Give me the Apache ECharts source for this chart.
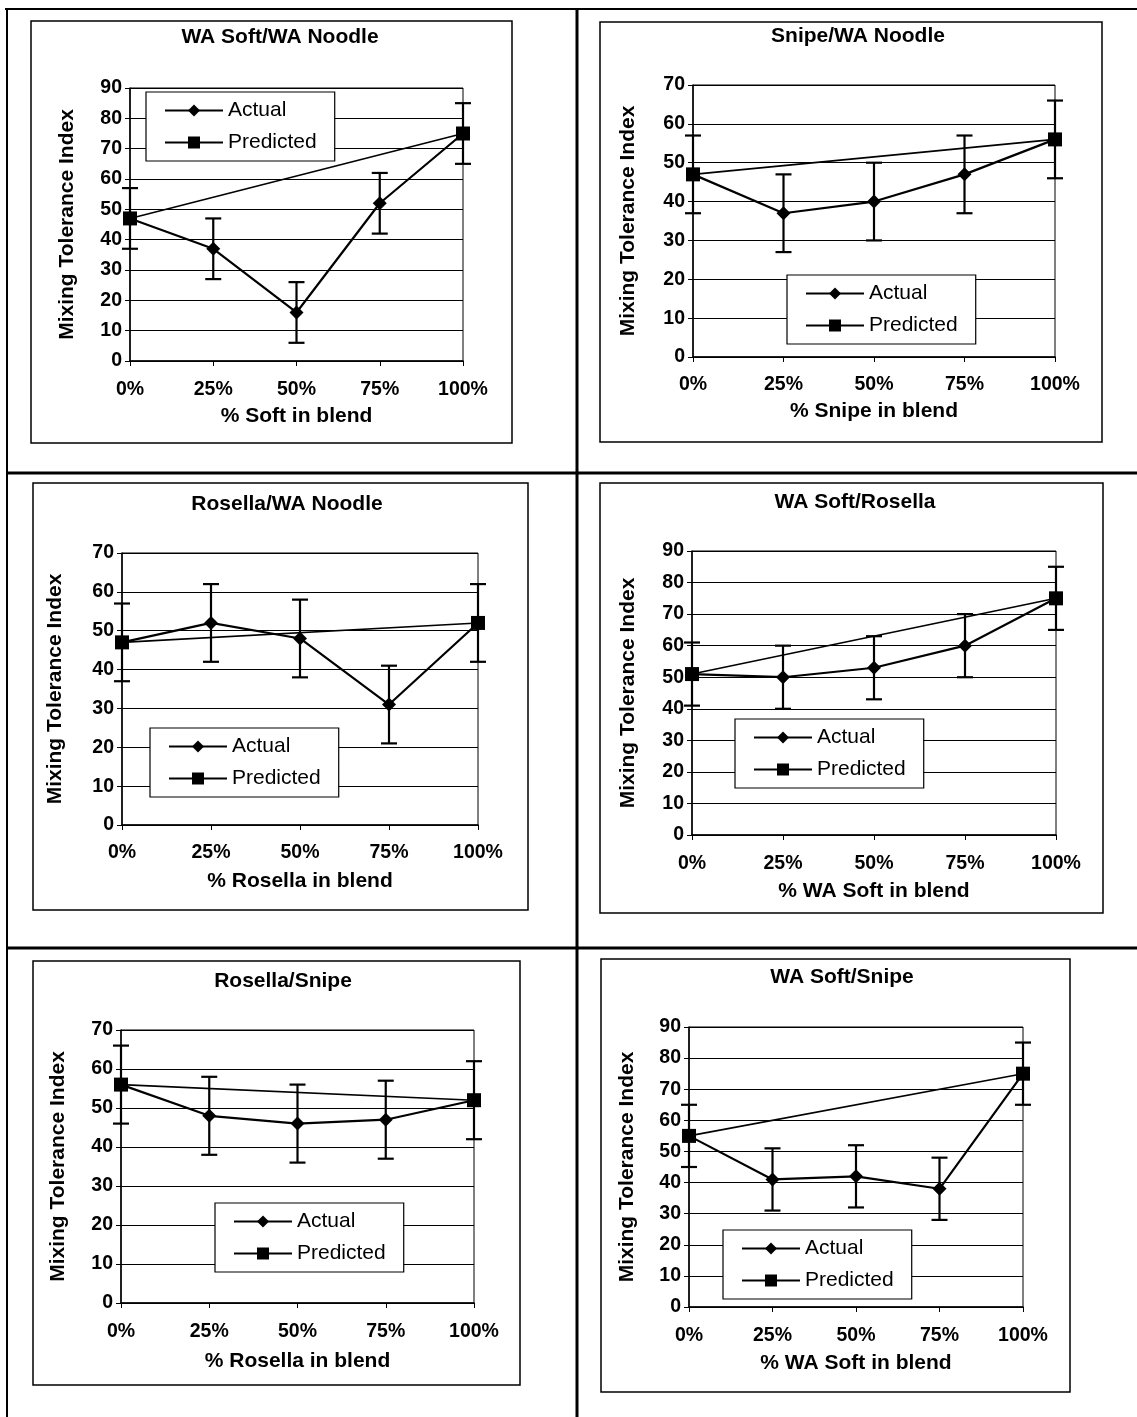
<!DOCTYPE html>
<html>
<head>
<meta charset="utf-8">
<script src="https://cdn.jsdelivr.net/npm/echarts@6/dist/echarts.min.js"></script>
<style>
html,body{margin:0;padding:0;background:#fff;}
#chart{width:1137px;height:1417px;}
</style>
</head>
<body>
<div id="chart"></div>
<script>
// ---------- DATA ----------
const categories = ['0%', '25%', '50%', '75%', '100%'];
const panelTitles = ['WA Soft/WA Noodle', 'Snipe/WA Noodle', 'Rosella/WA Noodle', 'WA Soft/Rosella', 'Rosella/Snipe', 'WA Soft/Snipe'];
const xAxisNames = ['% Soft in blend', '% Snipe in blend', '% Rosella in blend', '% WA Soft in blend', '% Rosella in blend', '% WA Soft in blend'];
const yAxisName = 'Mixing Tolerance Index';
const yAxisMax = [90, 70, 70, 90, 70, 90];
const legendNames = ['Actual', 'Predicted'];

const actual1 = [47, 37, 16, 52, 75];
const predicted1 = [47, null, null, null, 75];
const error1 = [10, 10, 10, 10, 10];

const actual2 = [47, 37, 40, 47, 56];
const predicted2 = [47, null, null, null, 56];
const error2 = [10, 10, 10, 10, 10];

const actual3 = [47, 52, 48, 31, 52];
const predicted3 = [47, null, null, null, 52];
const error3 = [10, 10, 10, 10, 10];

const actual4 = [51, 50, 53, 60, 75];
const predicted4 = [51, null, null, null, 75];
const error4 = [10, 10, 10, 10, 10];

const actual5 = [56, 48, 46, 47, 52];
const predicted5 = [56, null, null, null, 52];
const error5 = [10, 10, 10, 10, 10];

const actual6 = [55, 41, 42, 38, 75];
const predicted6 = [55, null, null, null, 75];
const error6 = [10, 10, 10, 10, 10];

const actualSets = [actual1, actual2, actual3, actual4, actual5, actual6];
const predictedSets = [predicted1, predicted2, predicted3, predicted4, predicted5, predicted6];
const errorSets = [error1, error2, error3, error4, error5, error6];

// ---------- LAYOUT ----------
const FONT = "'Liberation Sans', Arial, sans-serif";
const layout = [
  { grid: [130, 88, 333, 273], box: [31, 21, 512, 443], title: [280, 27], yGap: 52, lblM: 19, xGap: 45, legend: [146, 92] },
  { grid: [693, 85, 362, 272], box: [600, 22, 1102, 442], title: [858, 26], yGap: 54, lblM: 18, xGap: 44, legend: [787, 275] },
  { grid: [122, 553, 356, 272], box: [33, 483, 528, 910], title: [287, 494], yGap: 56, lblM: 18, xGap: 46, legend: [150, 728] },
  { grid: [692, 551, 364, 284], box: [600, 483, 1103, 913], title: [855, 492], yGap: 53, lblM: 19, xGap: 46, legend: [735, 719] },
  { grid: [121, 1030, 353, 273], box: [33, 961, 520, 1385], title: [283, 971], yGap: 52, lblM: 19, xGap: 48, legend: [215, 1203] },
  { grid: [689, 1027, 334, 280], box: [601, 959, 1070, 1392], title: [842, 967], yGap: 51, lblM: 19, xGap: 46, legend: [723, 1230] }
];

const option = {
  animation: false,
  backgroundColor: '#fff',
  title: [], grid: [], xAxis: [], yAxis: [], legend: [], series: [],
  graphic: []
};

// page dividers and panel boxes
const thick = { stroke: '#000', lineWidth: 3 };
option.graphic.push(
  { type: 'line', shape: { x1: 5, y1: 9, x2: 1137, y2: 9 }, style: { stroke: '#000', lineWidth: 2 }, z: 10 },
  { type: 'line', shape: { x1: 7, y1: 9, x2: 7, y2: 1417 }, style: { stroke: '#000', lineWidth: 2 }, z: 10 },
  { type: 'line', shape: { x1: 577, y1: 9, x2: 577, y2: 1417 }, style: thick, z: 10 },
  { type: 'line', shape: { x1: 7, y1: 473, x2: 1137, y2: 473 }, style: thick, z: 10 },
  { type: 'line', shape: { x1: 7, y1: 948, x2: 1137, y2: 948 }, style: thick, z: 10 }
);

layout.forEach((L, i) => {
  const [gl, gt, gw, gh] = L.grid;
  const [bx1, by1, bx2, by2] = L.box;
  option.graphic.push({
    type: 'rect', shape: { x: bx1, y: by1, width: bx2 - bx1, height: by2 - by1 },
    style: { fill: 'none', stroke: '#000', lineWidth: 1.5 }, z: 10
  });
  option.title.push({
    text: panelTitles[i], left: L.title[0], top: L.title[1], textAlign: 'center',
    textStyle: { fontFamily: FONT, fontSize: 21, fontWeight: 'bold', color: '#000' }, padding: 0
  });
  option.grid.push({ left: gl, top: gt, width: gw, height: gh, show: true, borderColor: '#000', borderWidth: 1, backgroundColor: 'transparent' });
  option.xAxis.push({
    type: 'category', gridIndex: i, data: categories, boundaryGap: false,
    name: xAxisNames[i], nameLocation: 'middle', nameGap: L.xGap,
    nameTextStyle: { fontFamily: FONT, fontSize: 21, fontWeight: 'bold', color: '#000', verticalAlign: 'top' },
    axisLine: { lineStyle: { color: '#000', width: 1.5 } },
    axisTick: { show: true, alignWithLabel: true, length: 5, lineStyle: { color: '#000' } },
    axisLabel: { margin: L.lblM, fontFamily: FONT, fontSize: 19.5, fontWeight: 'bold', color: '#000' },
    splitLine: { show: false }
  });
  option.yAxis.push({
    type: 'value', gridIndex: i, min: 0, max: yAxisMax[i], interval: 10,
    name: yAxisName, nameLocation: 'middle', nameGap: L.yGap, nameRotate: 90,
    nameTextStyle: { fontFamily: FONT, fontSize: 21, fontWeight: 'bold', color: '#000' },
    axisLine: { show: true, lineStyle: { color: '#000', width: 1.5 } },
    axisTick: { show: true, length: 5, lineStyle: { color: '#000' } },
    axisLabel: { margin: 8, fontFamily: FONT, fontSize: 19.5, fontWeight: 'bold', color: '#000' },
    splitLine: { show: true, lineStyle: { color: '#000', width: 1 } }
  });
  option.legend.push({
    data: legendNames, orient: 'vertical', left: L.legend[0], top: L.legend[1],
    backgroundColor: '#fff', borderColor: '#000', borderWidth: 1.2,
    padding: [8, 18, 8, 18], itemGap: 11, itemWidth: 58, itemHeight: 15,
    textStyle: { fontFamily: FONT, fontSize: 21, color: '#000' },
    selectedMode: false, z: 6
  });
  // error bars for the Actual series
  const errData = actualSets[i].map((v, k) => [k, v, errorSets[i][k]]);
  option.series.push({
    type: 'custom', xAxisIndex: i, yAxisIndex: i, z: 3,
    data: errData, encode: { x: 0, y: 1 },
    renderItem: function (params, api) {
      const x = api.value(0), y = api.value(1), e = api.value(2);
      const hi = api.coord([x, y + e]);
      const lo = api.coord([x, y - e]);
      const cap = 8;
      const st = { stroke: '#000', lineWidth: 2.2 };
      return {
        type: 'group', children: [
          { type: 'line', shape: { x1: hi[0], y1: hi[1], x2: lo[0], y2: lo[1] }, style: st },
          { type: 'line', shape: { x1: hi[0] - cap, y1: hi[1], x2: hi[0] + cap, y2: hi[1] }, style: st },
          { type: 'line', shape: { x1: lo[0] - cap, y1: lo[1], x2: lo[0] + cap, y2: lo[1] }, style: st }
        ]
      };
    }
  });
  option.series.push({
    name: 'Predicted', type: 'line', xAxisIndex: i, yAxisIndex: i, z: 4,
    data: predictedSets[i], connectNulls: true,
    symbol: 'rect', symbolSize: 14,
    lineStyle: { color: '#000', width: 1.6 }, itemStyle: { color: '#000' }
  });
  option.series.push({
    name: 'Actual', type: 'line', xAxisIndex: i, yAxisIndex: i, z: 5,
    data: actualSets[i],
    symbol: 'diamond', symbolSize: 14,
    lineStyle: { color: '#000', width: 2.2 }, itemStyle: { color: '#000' }
  });
});

const chart = echarts.init(document.getElementById('chart'), null, { renderer: 'canvas' });
chart.setOption(option);
</script>
</body>
</html>
